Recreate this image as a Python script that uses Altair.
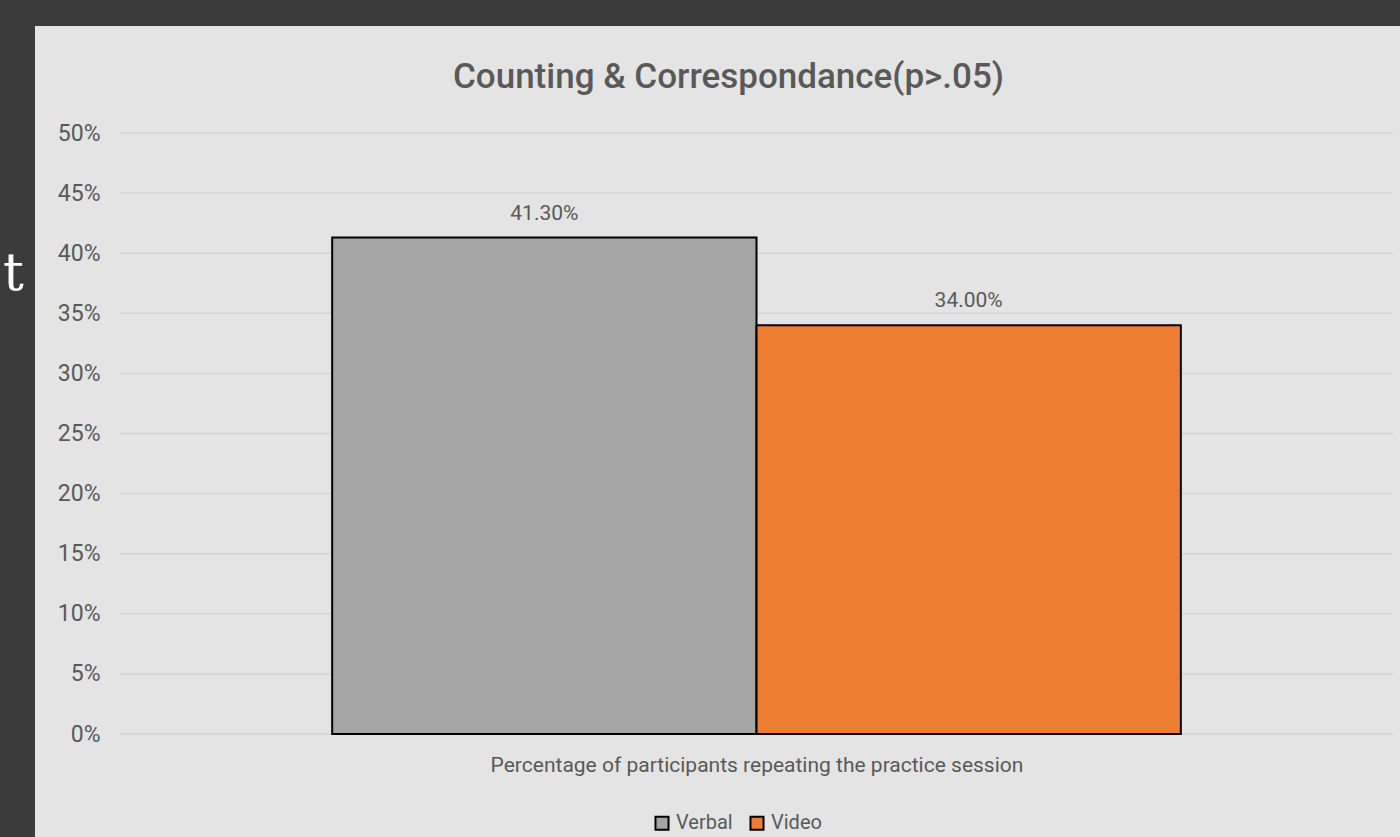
import altair as alt
import pandas as pd

# ---- data ----
series = ["Verbal", "Video"]
values = [0.413, 0.34]
colors = ["#a5a5a5", "#ed7d31"]
y_ticks = [0.0, 0.05, 0.10, 0.15, 0.20, 0.25, 0.30, 0.35, 0.40, 0.45, 0.50]
title_text = "Counting & Correspondance(p>.05)"
x_title = "Percentage of participants repeating the practice session"

FONT = "Roboto"
TXT = "#595959"

bars_df = pd.DataFrame({"series": series, "value": values})
grid_df = pd.DataFrame({"tick": y_ticks})

y_scale = alt.Scale(domain=[0, 0.5], nice=False)
y_axis = alt.Axis(values=y_ticks, format=".0%", grid=False, domain=False, ticks=False,
                  labelFontSize=23, labelColor=TXT, labelFont=FONT, labelPadding=20,
                  title=None, zindex=1)
x_scale = alt.Scale(paddingInner=0, paddingOuter=0.5)
x_axis = alt.Axis(labels=False, ticks=False, domain=False, grid=False,
                  title=x_title, titleFontSize=21, titleColor=TXT, titleFont=FONT,
                  titleFontWeight="normal", titlePadding=20, zindex=1)

panel = alt.Chart(pd.DataFrame({"p": [0]})).mark_rect(color="#e4e4e4").encode(
    x=alt.value(-85), x2=alt.value(1280), y=alt.value(-107), y2=alt.value(704)
)

chalk = alt.Chart(pd.DataFrame({"t": ["t"]})).mark_text(
    color="white", font="DejaVu Serif", fontSize=52, align="left", baseline="alphabetic"
).encode(text="t:N", x=alt.value(-117), y=alt.value(157))

grid = alt.Chart(grid_df).mark_rule(color="#d4d4d4", strokeWidth=1.5).encode(
    y=alt.Y("tick:Q", scale=y_scale, axis=y_axis)
)

bars = alt.Chart(bars_df).mark_bar(stroke="black", strokeWidth=2).encode(
    x=alt.X("series:N", sort=series, scale=x_scale, axis=x_axis),
    y=alt.Y("value:Q", scale=y_scale, axis=y_axis),
    color=alt.Color("series:N", sort=series, scale=alt.Scale(domain=series, range=colors),
                    legend=alt.Legend(orient="none", legendX=532, legendY=680, direction="horizontal",
                                      title=None, symbolType="square", symbolSize=170,
                                      symbolStrokeColor="black", symbolStrokeWidth=2,
                                      labelFontSize=20, labelColor=TXT, labelFont=FONT,
                                      columnPadding=13, labelOffset=4, zindex=1)),
)

labels = alt.Chart(bars_df).mark_text(
    fontSize=21, color=TXT, font=FONT, baseline="bottom", dy=-14
).encode(
    x=alt.X("series:N", sort=series, scale=x_scale, axis=x_axis),
    y=alt.Y("value:Q", scale=y_scale, axis=y_axis),
    text=alt.Text("value:Q", format=".2%"),
)

chart = alt.layer(panel, chalk, grid, bars, labels).properties(
    width=1273, height=601,
    padding={"left": 120, "top": 133, "right": 7, "bottom": 103},
    autosize=alt.AutoSizeParams(type="none"),
    background="#3b3b3b",
    title=alt.TitleParams(title_text, fontSize=35, color=TXT, font=FONT, fontWeight=500,
                          anchor="middle", dx=-28, dy=93, offset=24),
).configure_view(stroke=None)

chart.save("out.html", embed_options={"renderer": "svg", "actions": False})
